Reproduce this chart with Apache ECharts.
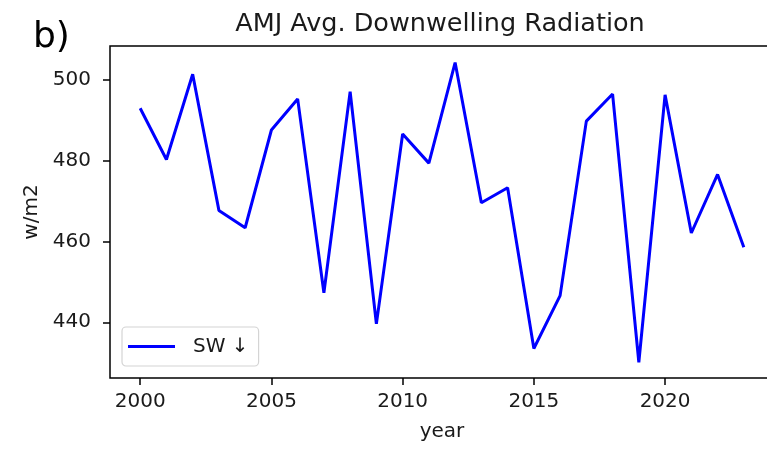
<!DOCTYPE html>
<html>
<head>
<meta charset="utf-8">
<script src="https://cdn.jsdelivr.net/npm/echarts@6/dist/echarts.min.js"></script>
<style>
  html, body { margin: 0; padding: 0; background: #fff; }
  #chart { width: 767px; height: 452px; }
</style>
</head>
<body>
<div id="chart"></div>
<script>
// AMJ average downwelling shortwave radiation, 2000-2023
const years = [2000, 2001, 2002, 2003, 2004, 2005, 2006, 2007, 2008, 2009, 2010, 2011,
               2012, 2013, 2014, 2015, 2016, 2017, 2018, 2019, 2020, 2021, 2022, 2023];
const swDown = [493.0, 480.3, 501.4, 467.7, 463.4, 487.6, 495.3, 447.3, 497.1, 439.6, 486.6, 479.4,
                504.3, 469.6, 473.3, 433.5, 446.6, 489.8, 496.5, 430.1, 496.3, 462.1, 476.6, 458.6];
const xTicks = [2000, 2005, 2010, 2015, 2020];
const yTicks = [440, 460, 480, 500];
const seriesName = 'SW ↓';
const titleText = 'AMJ Avg. Downwelling Radiation';
const panelLabel = 'b)';

const FONT = 'DejaVu Sans';
const TEXT = '#1a1a1a';

const chart = echarts.init(document.getElementById('chart'), null, { renderer: 'canvas' });

chart.setOption({
  animation: false,
  backgroundColor: '#fff',
  grid: {
    left: 110, top: 46, width: 664, height: 332,
    outerBoundsMode: 'none',
    show: true, borderColor: '#000', borderWidth: 1.5, backgroundColor: 'transparent'
  },
  graphic: [
    { type: 'text', x: 440, y: 24.5,
      style: { text: titleText, fontFamily: FONT, fontSize: 25.5, fill: TEXT, align: 'center', verticalAlign: 'middle' } },
    { type: 'text', x: 33, y: 37.5,
      style: { text: panelLabel, fontFamily: FONT, fontSize: 36, fill: '#000', align: 'left', verticalAlign: 'middle' } }
  ],
  xAxis: {
    type: 'value', min: 1998.85, max: 2024.15,
    name: 'year', nameLocation: 'middle', nameGap: 44,
    nameTextStyle: { fontFamily: FONT, fontSize: 20, color: TEXT },
    axisLine: { show: false },
    axisTick: { show: true, length: 7, customValues: xTicks, lineStyle: { color: '#000', width: 1.5 } },
    axisLabel: { customValues: xTicks, margin: 14, fontFamily: FONT, fontSize: 20, color: TEXT,
                 formatter: v => String(v) },
    splitLine: { show: false }
  },
  yAxis: {
    type: 'value', min: 426.2, max: 508.4,
    name: 'w/m2', nameLocation: 'middle', nameGap: 66, nameRotate: 90,
    nameTextStyle: { fontFamily: FONT, fontSize: 20, color: TEXT },
    axisLine: { show: false },
    axisTick: { show: true, length: 7, customValues: yTicks, lineStyle: { color: '#000', width: 1.5 } },
    axisLabel: { customValues: yTicks, margin: 19, fontFamily: FONT, fontSize: 20, color: TEXT,
                 formatter: v => String(v) },
    splitLine: { show: false }
  },
  legend: {
    left: 122, top: 327,
    data: [{ name: seriesName, icon: 'rect' }],
    itemWidth: 47, itemHeight: 3,
    padding: [9, 10, 9, 6],
    borderColor: '#d4d4d4', borderWidth: 1.2, borderRadius: 4,
    backgroundColor: 'rgba(255,255,255,0.8)',
    textStyle: { fontFamily: FONT, fontSize: 20, color: TEXT, lineHeight: 21, padding: [0, 0, 0, 13] }
  },
  series: [{
    name: seriesName,
    type: 'line',
    data: years.map((y, i) => [y, swDown[i]]),
    symbol: 'none',
    lineStyle: { color: '#0000ff', width: 3 },
    itemStyle: { color: '#0000ff' }
  }]
});
</script>
</body>
</html>
